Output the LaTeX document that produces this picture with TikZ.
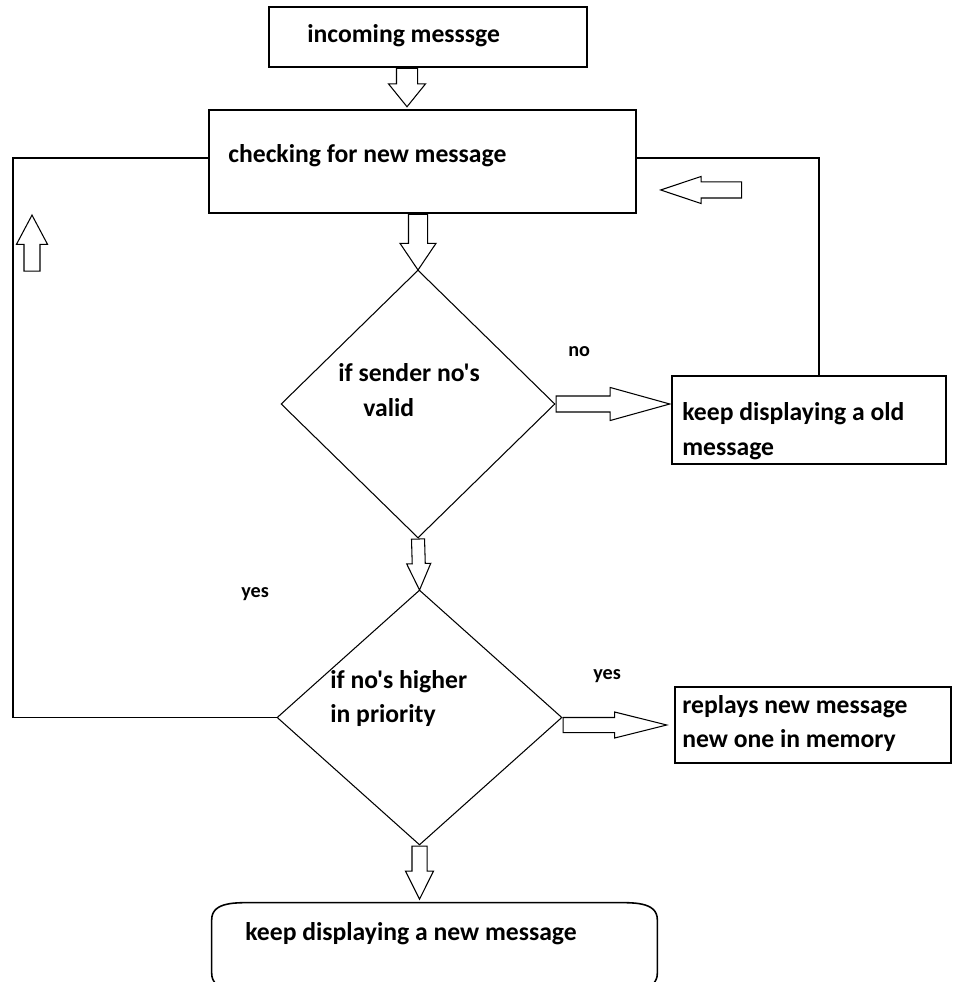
\documentclass[tikz,border=0pt]{standalone}
\usepackage{fontspec}
\newfontfamily\calib{Carlito}
\usetikzlibrary{positioning,calc,shapes.geometric,shapes.arrows}

% hollow block arrow laid between two points
\newcommand{\blockarrow}[4]{%
  \path let \p1=#3, \p2=#4, \n1={veclen(\x2-\x1,\y2-\y1)}, \n2={atan2(\y2-\y1,\x2-\x1)} in
    node[barrow, #2, minimum height=\n1, rotate=\n2, anchor=tail] (#1) at (\p1) {};}

\begin{document}
\begin{tikzpicture}[x=0.02cm, y=-0.02cm, font=\calib\bfseries\fontsize{14.6}{20.5}\selectfont,
        box/.style ={rectangle, draw, inner sep=0pt, line width=0.9pt},
        decision/.style ={diamond, draw, inner sep=0pt, line width=0.6pt},
        txt/.style ={anchor=base west, inner sep=0pt},
        lbl/.style ={txt, font=\calib\bfseries\fontsize{11.5}{14}\selectfont},
        barrow/.style ={single arrow, draw, inner xsep=0pt, line width=0.6pt},
        loopline/.style ={line width=0.9pt}]
        \useasboundingbox (0,0) rectangle (953,982);

        %boxes and decisions
        \node[box, minimum width=6.36cm, minimum height=1.2cm] (inc) at (428,37) {};
        \node[txt] (tinc) at (307,43) {incoming messsge};
        \node[box, minimum width=8.54cm, minimum height=2.06cm] (chk) at (422.5,161.5) {};
        \node[txt] (tchk) at (228,163) {checking for new message};
        \node[decision, minimum width=5.48cm, minimum height=5.36cm] (dv1) at (418,404) {};
        \node[txt] (tdv1a) at (338,381) {if sender no's};
        \node[txt] (tdv1b) at (363,417) {valid};
        \node[box, minimum width=5.48cm, minimum height=1.76cm] (old) at (809,420) {};
        \node[txt] (told1) at (682,420) {keep displaying a old};
        \node[txt] (told2) at (682,455) {message};
        \node[decision, minimum width=5.7cm, minimum height=5.1cm] (dv2) at (419.5,717.5) {};
        \node[txt] (tdv2a) at (330,688) {if no's higher};
        \node[txt] (tdv2b) at (330,722) {in priority};
        \node[box, minimum width=5.52cm, minimum height=1.52cm] (rep) at (813,725) {};
        \node[txt] (trep1) at (682,713) {replays new message};
        \node[txt] (trep2) at (682,747) {new one in memory};
        \node[inner sep=0pt, minimum width=8.9cm, minimum height=1.74cm] (new) at (434.5,946.5) {};
        \node[txt] (tnew) at (245,940) {keep displaying a new message};

        \draw[loopline] ($(new.north west)+(44,0)$) -- ($(new.north east)+(-44,0)$)
            to[out=0,in=90] ($(new.north east)+(0,17)$) -- ($(new.south east)+(0,-17)$)
            to[out=-90,in=0] ($(new.south east)+(-44,0)$) -- ($(new.south west)+(44,0)$)
            to[out=180,in=-90] ($(new.south west)+(0,-17)$) -- ($(new.north west)+(0,17)$)
            to[out=90,in=180] cycle;

        %labels
        \node[lbl] (lno) at (568,357) {no};
        \node[lbl] (lyes1) at (241,597) {yes};
        \node[lbl] (lyes2) at (593,679) {yes};

        %block arrows
        \blockarrow{ba1}{inner ysep=0.2cm, single arrow head extend=0.16cm, single arrow tip angle=78}{($(inc.south)+(-21,0)$)}{($(chk.north)+(-15.5,-3)$)}
        \blockarrow{ba2}{inner ysep=0.18cm, single arrow head extend=0.17cm, single arrow tip angle=68}{(chk.south -| dv1.north)}{(dv1.north)}
        \blockarrow{ba3}{inner ysep=0.12cm, single arrow head extend=0.11cm, single arrow tip angle=49}{(dv1.south)}{(dv2.north)}
        \blockarrow{ba4}{inner ysep=0.14cm, single arrow head extend=0.13cm, single arrow tip angle=53}{(dv2.south)}{($(dv2.south |- new.north)+(0,-4)$)}
        \blockarrow{bano}{inner ysep=0.15cm, single arrow head extend=0.17cm, single arrow tip angle=31}{(dv1.east)}{($(dv1.east -| old.west)+(-2,0)$)}
        \blockarrow{bayes}{inner ysep=0.14cm, single arrow head extend=0.11cm, single arrow tip angle=28}{(dv2.east |- rep.west)}{($(rep.west)+(-8,0)$)}

        \node[barrow, inner ysep=0.15cm, single arrow head extend=0.11cm, single arrow tip angle=37, minimum height=1.62cm, rotate=180, anchor=tip] (back) at (659,190) {};
        \node[barrow, inner ysep=0.15cm, single arrow head extend=0.15cm, single arrow tip angle=56, minimum height=1.12cm, rotate=90, anchor=tip] (up) at (32,214) {};

        %return lines
        \coordinate (rc) at (819,158);
        \coordinate (lc) at (13,158);
        \draw[loopline] (old.north -| rc) -- (rc) -- (rc -| chk.east);
        \draw[loopline] (dv2.west) -- (dv2.west -| lc) -- (lc) -- (lc -| chk.west);
    \end{tikzpicture}
\end{document}
